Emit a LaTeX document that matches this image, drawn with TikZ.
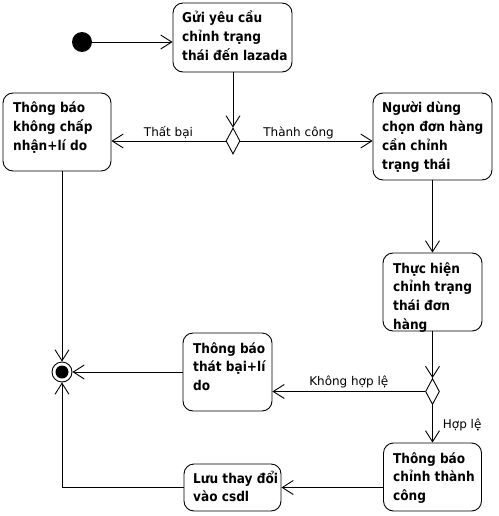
\documentclass[tikz,border=0pt]{standalone}
\usepackage{fontspec}
\setmainfont{DejaVu Sans}
\newfontfamily\condfont{DejaVu Sans Condensed}
\usetikzlibrary{arrows.meta,shapes.geometric,calc}
\tikzset{
  actbox/.style={draw, rounded corners=10pt, line width=0.9pt, inner sep=0pt},
  txt/.style={anchor=base west, inner sep=0pt, font=\condfont\bfseries\fontsize{13.5}{18.7}\selectfont},
  lbl/.style={inner sep=0pt, font=\fontsize{12}{14}\selectfont},
  arr/.style={line width=0.9pt, -{Straight Barb[length=11pt,width=14pt,line width=0.9pt]}},
  decision/.style={draw, diamond, line width=0.9pt, inner sep=0pt, minimum width=14pt, minimum height=26pt},
}
\begin{document}
\begin{tikzpicture}[x=1pt,y=-1pt]
\useasboundingbox (0,0) rectangle (498,516);
% start and end
\node[circle, fill=black, inner sep=0pt, minimum size=20pt] (start) at (82,42) {};
\node[circle, draw, line width=0.9pt, inner sep=0pt, minimum size=20pt] (end) at (62,372) {};
\fill (end.center) circle (6.5pt);
% boxes
\node[actbox, minimum width=119pt, minimum height=69pt] (b1) at (232.5,37.5) {};
\node[actbox, minimum width=108pt, minimum height=78pt] (b2) at (57,132) {};
\node[actbox, minimum width=119pt, minimum height=87pt] (b3) at (432.5,136.5) {};
\node[actbox, minimum width=99pt, minimum height=78pt] (b4) at (432.5,292) {};
\node[actbox, minimum width=89pt, minimum height=78pt] (b5) at (227.5,372) {};
\node[actbox, minimum width=98pt, minimum height=68pt] (b6) at (432.5,477) {};
\node[actbox, minimum width=97pt, minimum height=47pt] (b7) at (232.5,487.5) {};
% texts
\node[txt] (t1) at (182,23) {\parbox[t]{120pt}{\raggedright Gửi yêu cầu\\chỉnh trạng\\thái đến lazada}};
\node[txt] (t2) at (13,113) {\parbox[t]{120pt}{\raggedright Thông báo\\không chấp\\nhận+lí do}};
\node[txt] (t3) at (382,113) {\parbox[t]{120pt}{\raggedright Người dùng\\chọn đơn hàng\\cần chỉnh\\trạng thái}};
\node[txt] (t4) at (393,273) {\parbox[t]{120pt}{\raggedright Thực hiện\\chỉnh trạng\\thái đơn\\hàng}};
\node[txt] (t5) at (193,353) {\parbox[t]{120pt}{\raggedright Thông báo\\thát bại+lí\\do}};
\node[txt] (t6) at (393,463) {\parbox[t]{120pt}{\raggedright Thông báo\\chỉnh thành\\công}};
\node[txt] (t7) at (193,483) {\parbox[t]{120pt}{\raggedright Lưu thay đổi\\vào csdl}};
% decisions
\node[decision] (d1) at (233,141) {};
\node[decision] (d2) at (432.5,391.5) {};
% connectors
\draw[arr] (start) -- (start -| b1.west);
\draw[arr] (b1.south -| d1.north) -- (d1.north);
\draw[arr] (d1.west) -- node[lbl, pos=0.5, anchor=base, yshift=5pt] (l1) {Thất bại} (d1.west -| b2.east);
\draw[arr] (d1.east) -- node[lbl, pos=0.44, anchor=base, yshift=5pt] (l2) {Thành công} (d1.east -| b3.west);
\draw[arr] (b3.south) -- (b4.north);
\draw[arr] (b4.south) -- (d2.north);
\draw[arr] (d2.west) -- node[lbl, pos=0.5, anchor=base, yshift=6pt] (l3) {Không hợp lệ} (d2.west -| b5.east);
\draw[arr] (d2.south) -- node[lbl, pos=0.62, anchor=base west, xshift=10pt] (l4) {Hợp lệ} (b6.north);
\draw[arr] (b6.west |- b7.east) -- (b7.east);
\draw[arr] (b7.west) -| (end.south);
\draw[arr] (b5.west) -- (end.east);
\draw[arr] (b2.south -| end.north) -- (end.north);
\end{tikzpicture}
\end{document}
